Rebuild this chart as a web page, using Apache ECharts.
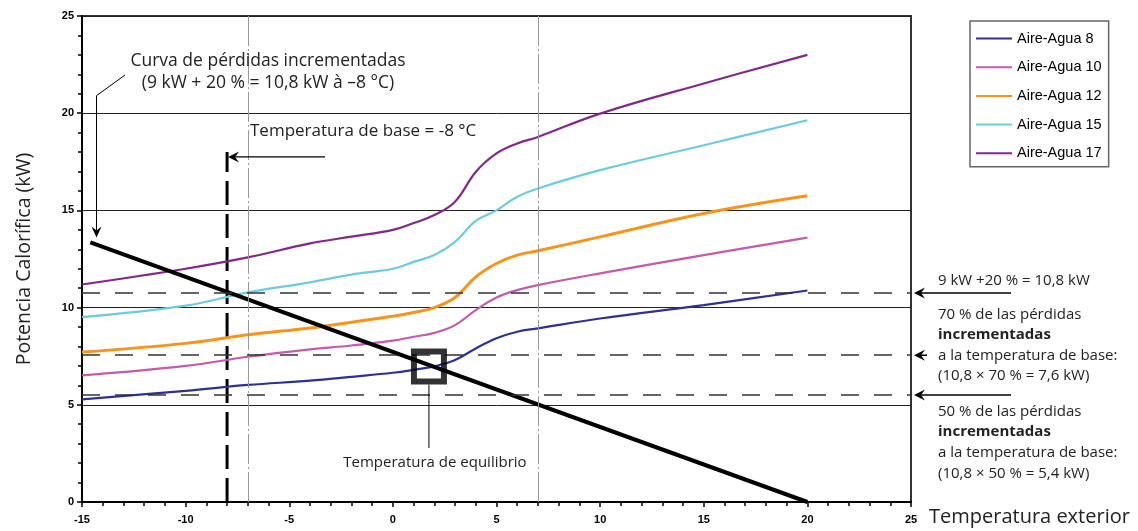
<!DOCTYPE html>
<html>
<head>
<meta charset="utf-8">
<script src="https://cdn.jsdelivr.net/npm/echarts@6/dist/echarts.min.js"></script>
<style>
  html, body { margin: 0; padding: 0; background: #fff; }
  #main { width: 1138px; height: 531px; }
</style>
</head>
<body>
<div id="main"></div>
<script>
// temperatura exterior (°C) y potencia calorífica (kW)
const temps = [-15, -10, -7, -4, -2, 0, 1, 2, 3, 4, 5, 6, 7, 10, 15, 20];
const aireAgua8  = [5.28, 5.72, 6.02, 6.24, 6.44, 6.65, 6.8, 6.98, 7.3, 7.9, 8.42, 8.76, 8.93, 9.44, 10.13, 10.88];
const aireAgua10 = [6.51, 7.0, 7.47, 7.85, 8.05, 8.3, 8.5, 8.7, 9.1, 9.87, 10.52, 10.9, 11.16, 11.76, 12.7, 13.6];
const aireAgua12 = [7.71, 8.16, 8.6, 8.95, 9.25, 9.55, 9.75, 10.0, 10.52, 11.58, 12.27, 12.7, 12.92, 13.64, 14.84, 15.75];
const aireAgua15 = [9.51, 10.1, 10.78, 11.3, 11.7, 12.0, 12.35, 12.7, 13.38, 14.46, 15.0, 15.7, 16.13, 17.07, 18.35, 19.64];
const aireAgua17 = [11.19, 12.0, 12.58, 13.3, 13.65, 14.0, 14.35, 14.76, 15.45, 16.98, 17.93, 18.44, 18.78, 19.98, 21.53, 23.0];

// curva de pérdidas incrementadas
const lossTemps = [-14.6, 20];
const lossPower = [13.35, 0];

// niveles de referencia (10,8 kW, 70 %, 50 %)
const refLevels = [10.75, 7.55, 5.5];
const baseTemp = -8;
const baseTop = 18;
const guideTemps = [-7, 7];
const equilibrium = [1.74, 6.97];

const seriesNames = ['Aire-Agua 8', 'Aire-Agua 10', 'Aire-Agua 12', 'Aire-Agua 15', 'Aire-Agua 17'];
const seriesValues = [aireAgua8, aireAgua10, aireAgua12, aireAgua15, aireAgua17];
const seriesColors = ['#2e3192', '#c55aa8', '#f7941d', '#6dcbdc', '#7f2a86'];
const seriesWidths = [2.2, 2.2, 3, 2.2, 2.2];

const annFont = '"Open Sans", "Noto Sans", sans-serif';
const tickFont = '"Liberation Sans", Arial, sans-serif';

const chart = echarts.init(document.getElementById('main'));

const curves = seriesNames.map((name, i) => ({
  name: name,
  type: 'line',
  data: temps.map((t, j) => [t, seriesValues[i][j]]),
  smooth: 0.4,
  symbol: 'none',
  z: 3,
  lineStyle: { color: seriesColors[i], width: seriesWidths[i] },
  itemStyle: { color: seriesColors[i] }
}));

chart.setOption({
  animation: false,
  grid: {
    left: 82, top: 16, right: 227, bottom: 29,
    show: true, borderColor: '#333', borderWidth: 2
  },
  legend: {
    data: seriesNames,
    orient: 'vertical',
    left: 970, top: 21,
    itemWidth: 36, itemHeight: 14, itemGap: 13.7,
    padding: [10, 7, 6, 5],
    borderColor: '#666', borderWidth: 1.5,
    itemStyle: { opacity: 0 },
    textStyle: { fontFamily: tickFont, fontSize: 14.5, color: '#000' }
  },
  xAxis: {
    type: 'value', min: -15, max: 25, interval: 5,
    axisLine: { onZero: false, lineStyle: { color: '#000', width: 2 } },
    axisTick: { inside: false, length: 5, lineStyle: { color: '#000', width: 1.5 } },
    minorTick: { show: true, splitNumber: 5, length: 4, lineStyle: { color: '#000', width: 1.5 } },
    axisLabel: { fontFamily: tickFont, fontWeight: 'bold', fontSize: 11, color: '#000', margin: 12 },
    splitLine: { show: false }
  },
  yAxis: {
    type: 'value', min: 0, max: 25, interval: 5,
    name: 'Potencia Calorífica (kW)',
    nameLocation: 'middle', nameGap: 48, nameRotate: 90,
    nameTextStyle: { fontFamily: annFont, fontSize: 19.5, color: '#222' },
    axisLine: { show: true, onZero: false, lineStyle: { color: '#000', width: 2 } },
    axisTick: { show: true, length: 5, lineStyle: { color: '#000', width: 1.5 } },
    minorTick: { show: true, splitNumber: 5, length: 4, lineStyle: { color: '#000', width: 1.5 } },
    axisLabel: { fontFamily: tickFont, fontWeight: 'bold', fontSize: 11, color: '#000', margin: 8 },
    splitLine: { show: true, lineStyle: { color: '#222', width: 1 } }
  },
  series: curves.concat([
    {
      name: 'guides',
      type: 'line',
      data: [],
      markLine: {
        silent: true, symbol: 'none', label: { show: false },
        lineStyle: { color: '#999', width: 1, type: [30, 3, 2, 3] },
        data: guideTemps.map(t => ({ xAxis: t }))
      },
      z: 1
    },
    {
      name: 'levels',
      type: 'line',
      data: [],
      markLine: {
        silent: true, symbol: 'none', label: { show: false },
        lineStyle: { color: '#333', width: 1.5, type: [18, 15] },
        data: refLevels.map(v => ({ yAxis: v }))
      },
      z: 2
    },
    {
      name: 'base',
      type: 'line',
      data: [[baseTemp, 0], [baseTemp, baseTop]],
      symbol: 'none',
      lineStyle: { color: '#000', width: 3, type: [24, 9] },
      z: 2
    },
    {
      name: 'pérdidas',
      type: 'line',
      data: lossTemps.map((t, i) => [t, lossPower[i]]),
      symbol: 'none',
      lineStyle: { color: '#000', width: 4 },
      z: 4
    },
    {
      name: 'equilibrio',
      type: 'scatter',
      data: [equilibrium],
      symbol: 'rect',
      symbolSize: 30,
      itemStyle: { color: 'rgba(0,0,0,0)', borderColor: '#000', borderWidth: 6 },
      z: 5
    }
  ])
});

// anotaciones, ancladas a la escala del gráfico
const px = (x, y) => chart.convertToPixel({ gridIndex: 0 }, [x, y]);
const rightEdge = px(25, 0)[0];
const baseX = px(baseTemp, 0)[0];
const baseArrowY = px(0, 17.75)[1];
const eq = px(equilibrium[0], equilibrium[1]);
const lossStart = px(-14.3, 13.6);

function arrowLeft(x, y) {
  return { type: 'polygon', shape: { points: [[x, y], [x + 11, y - 5.5], [x + 7, y], [x + 11, y + 5.5]] }, style: { fill: '#000' }, z: 10 };
}
function hline(x1, x2, y, w) {
  return { type: 'line', shape: { x1: x1, y1: y, x2: x2, y2: y }, style: { stroke: '#000', lineWidth: w || 1.5 }, z: 10 };
}
function label(text, x, y, size, opts) {
  return {
    type: 'text', x: x, y: y, z: 10,
    style: Object.assign({ text: text, fontFamily: annFont, fontSize: size, fill: '#222', verticalAlign: 'middle', align: 'left' }, opts || {})
  };
}

const levelY = refLevels.map(v => px(0, v)[1]);
const graphics = [
  // curva de pérdidas
  label('Curva de pérdidas incrementadas', 268, 61, 17.5, { align: 'center' }),
  label('(9 kW + 20 % = 10,8 kW à –8 °C)', 268, 83, 17.5, { align: 'center' }),
  { type: 'polyline', shape: { points: [[125, 75], [lossStart[0], 95.7], [lossStart[0], lossStart[1] - 6]] }, style: { stroke: '#000', lineWidth: 1, fill: null }, z: 10 },
  { type: 'polygon', shape: { points: [[lossStart[0], lossStart[1]], [lossStart[0] - 5, lossStart[1] - 11], [lossStart[0], lossStart[1] - 7], [lossStart[0] + 5, lossStart[1] - 11]] }, style: { fill: '#000' }, z: 10 },
  // temperatura de base
  label('Temperatura de base = -8 °C', 250, 131, 17),
  hline(baseX + 6, 325, baseArrowY, 1.2),
  arrowLeft(baseX + 1, baseArrowY),
  // temperatura de equilibrio
  { type: 'line', shape: { x1: eq[0], y1: eq[1] + 18, x2: eq[0], y2: 448 }, style: { stroke: '#000', lineWidth: 1 }, z: 10 },
  label('Temperatura de equilibrio', eq[0] + 6, 463, 15, { align: 'center' }),
  // flechas de la derecha
  hline(rightEdge + 9, 1011, levelY[0]),
  arrowLeft(rightEdge + 3, levelY[0]),
  hline(rightEdge + 9, 927, levelY[1]),
  arrowLeft(rightEdge + 3, levelY[1]),
  hline(rightEdge + 9, 1011, levelY[2]),
  arrowLeft(rightEdge + 3, levelY[2]),
  label('9 kW +20 % = 10,8 kW', 938, 281, 15),
  label('70 % de las pérdidas', 938, 315, 15),
  label('incrementadas', 938, 335, 15, { fontWeight: 'bold' }),
  label('a la temperatura de base:', 938, 356, 15),
  label('(10,8 × 70 % = 7,6 kW)', 938, 376, 15),
  label('50 % de las pérdidas', 938, 412, 15),
  label('incrementadas', 938, 432, 15, { fontWeight: 'bold' }),
  label('a la temperatura de base:', 938, 453, 15),
  label('(10,8 × 50 % = 5,4 kW)', 938, 474, 15),
  // título del eje x
  label('Temperatura exterior', 929, 517, 20)
];
chart.setOption({ graphic: graphics });
</script>
</body>
</html>
